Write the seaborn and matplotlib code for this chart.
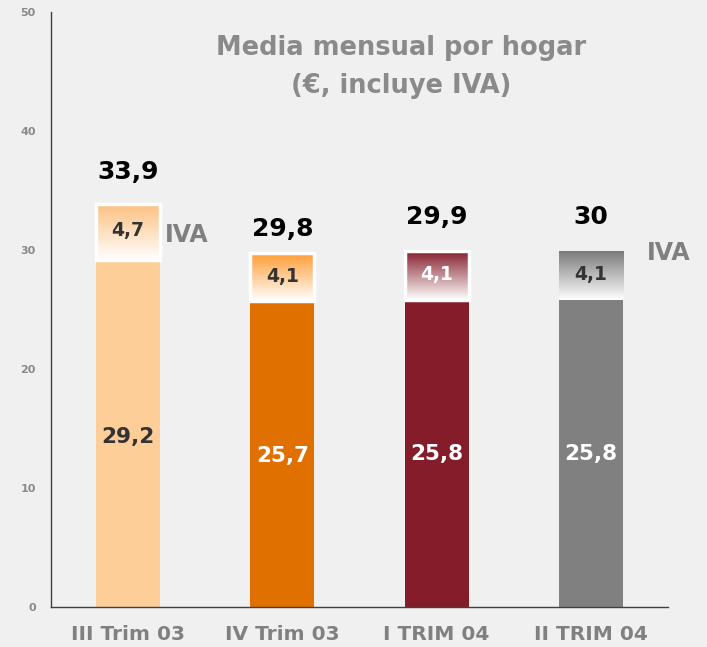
import numpy as np
import pandas as pd
import matplotlib
matplotlib.use("Agg")
import matplotlib.pyplot as plt
import seaborn as sns
from matplotlib.colors import LinearSegmentedColormap
from matplotlib.patches import Rectangle

# ---- data ----
categories = ["III Trim 03", "IV Trim 03", "I TRIM 04", "II TRIM 04"]
base_values = [29.2, 25.7, 25.8, 25.8]
iva_values = [4.7, 4.1, 4.1, 4.1]
total_labels = ["33,9", "29,8", "29,9", "30"]
base_labels = ["29,2", "25,7", "25,8", "25,8"]
iva_labels = ["4,7", "4,1", "4,1", "4,1"]
yticks = [0, 10, 20, 30, 40, 50]

bar_colors = ["#FDCE98", "#E07000", "#841C2A", "#808080"]
iva_top_colors = ["#FCC080", "#FF9A30", "#86202E", "#7A7A7A"]
base_label_colors = ["#333333", "white", "white", "white"]
iva_label_colors = ["#333333", "#333333", "white", "#333333"]
white_frame = [True, True, True, False]
total_label_y = [36.6, 31.8, 32.8, 32.8]
base_label_y = [14.3, 12.7, 12.9, 12.9]

totals = [b + i for b, i in zip(base_values, iva_values)]
df = pd.DataFrame({"cat": categories, "base": base_values, "total": totals})

sns.set_style("white")
bg = "#F0F0F0"
fig = plt.figure(figsize=(7.07, 6.47), dpi=100, facecolor=bg)
ax = fig.add_axes([51/707, 1-607/647, (668-51)/707, (607-12.4)/647])
ax.set_facecolor(bg)

bw = 0.415
sns.barplot(data=df, x="cat", y="base", hue="cat", palette=bar_colors,
            width=bw, legend=False, ax=ax, saturation=1, linewidth=0)
base_patches = list(ax.patches)

for i, p in enumerate(base_patches):
    x0, w = p.get_x(), p.get_width()
    b, t = base_values[i], totals[i]
    cmap = LinearSegmentedColormap.from_list("g", [iva_top_colors[i], "white"])
    grad = np.linspace(0, 1, 256).reshape(-1, 1)
    ax.imshow(grad, cmap=cmap, aspect="auto", extent=[x0, x0 + w, b, t],
              origin="upper", zorder=3, interpolation="bilinear")
    if white_frame[i]:
        ax.add_patch(Rectangle((x0, b), w, t - b, fill=False, edgecolor="white",
                               linewidth=2.5, zorder=4))
    cx = x0 + w / 2
    ax.text(cx, total_label_y[i], total_labels[i], ha="center", va="center",
            fontsize=18, fontweight="bold", color="black", zorder=5)
    ax.text(cx, b + (t - b) * 0.52, iva_labels[i], ha="center", va="center",
            fontsize=13.5, fontweight="bold", color=iva_label_colors[i], zorder=5)
    ax.text(cx, base_label_y[i], base_labels[i], ha="center", va="center",
            fontsize=15.5, fontweight="bold", color=base_label_colors[i], zorder=5)

ax.text(0.24, 31.3, "IVA", ha="left", va="center", fontsize=17, fontweight="bold",
        color="#808080", zorder=6)
ax.text(3.364, 29.8, "IVA", ha="left", va="center", fontsize=17, fontweight="bold",
        color="#808080", clip_on=False)

ax.text(1.77, 45.4, "Media mensual por hogar\n(€, incluye IVA)", ha="center", va="center",
        fontsize=18.5, fontweight="bold", color="#8A8A8A", linespacing=1.6)

ax.set_xlim(-0.5, 3.5)
ax.set_ylim(0, 50)
ax.set_yticks(yticks)
ax.set_yticklabels([str(v) for v in yticks], fontsize=8, fontweight="bold", color="#8A8A8A")
ax.set_xticks(range(4))
ax.set_xticklabels(categories, fontsize=14.5, fontweight="bold", color="#808080")
ax.set_xticks([-0.5, 0.5, 1.5, 2.5, 3.5], minor=True)
ax.tick_params(axis="x", which="major", length=0, pad=13)
ax.tick_params(axis="x", which="minor", length=5, width=1, color="#404040", direction="out")
ax.tick_params(axis="y", length=5, width=1, color="#404040", direction="out", pad=6)
ax.set_xlabel("")
ax.set_ylabel("")
for s in ["top", "right"]:
    ax.spines[s].set_visible(False)
for s in ["left", "bottom"]:
    ax.spines[s].set_color("#404040")
    ax.spines[s].set_linewidth(1)

fig.savefig("out.png", dpi=100, facecolor=bg)
